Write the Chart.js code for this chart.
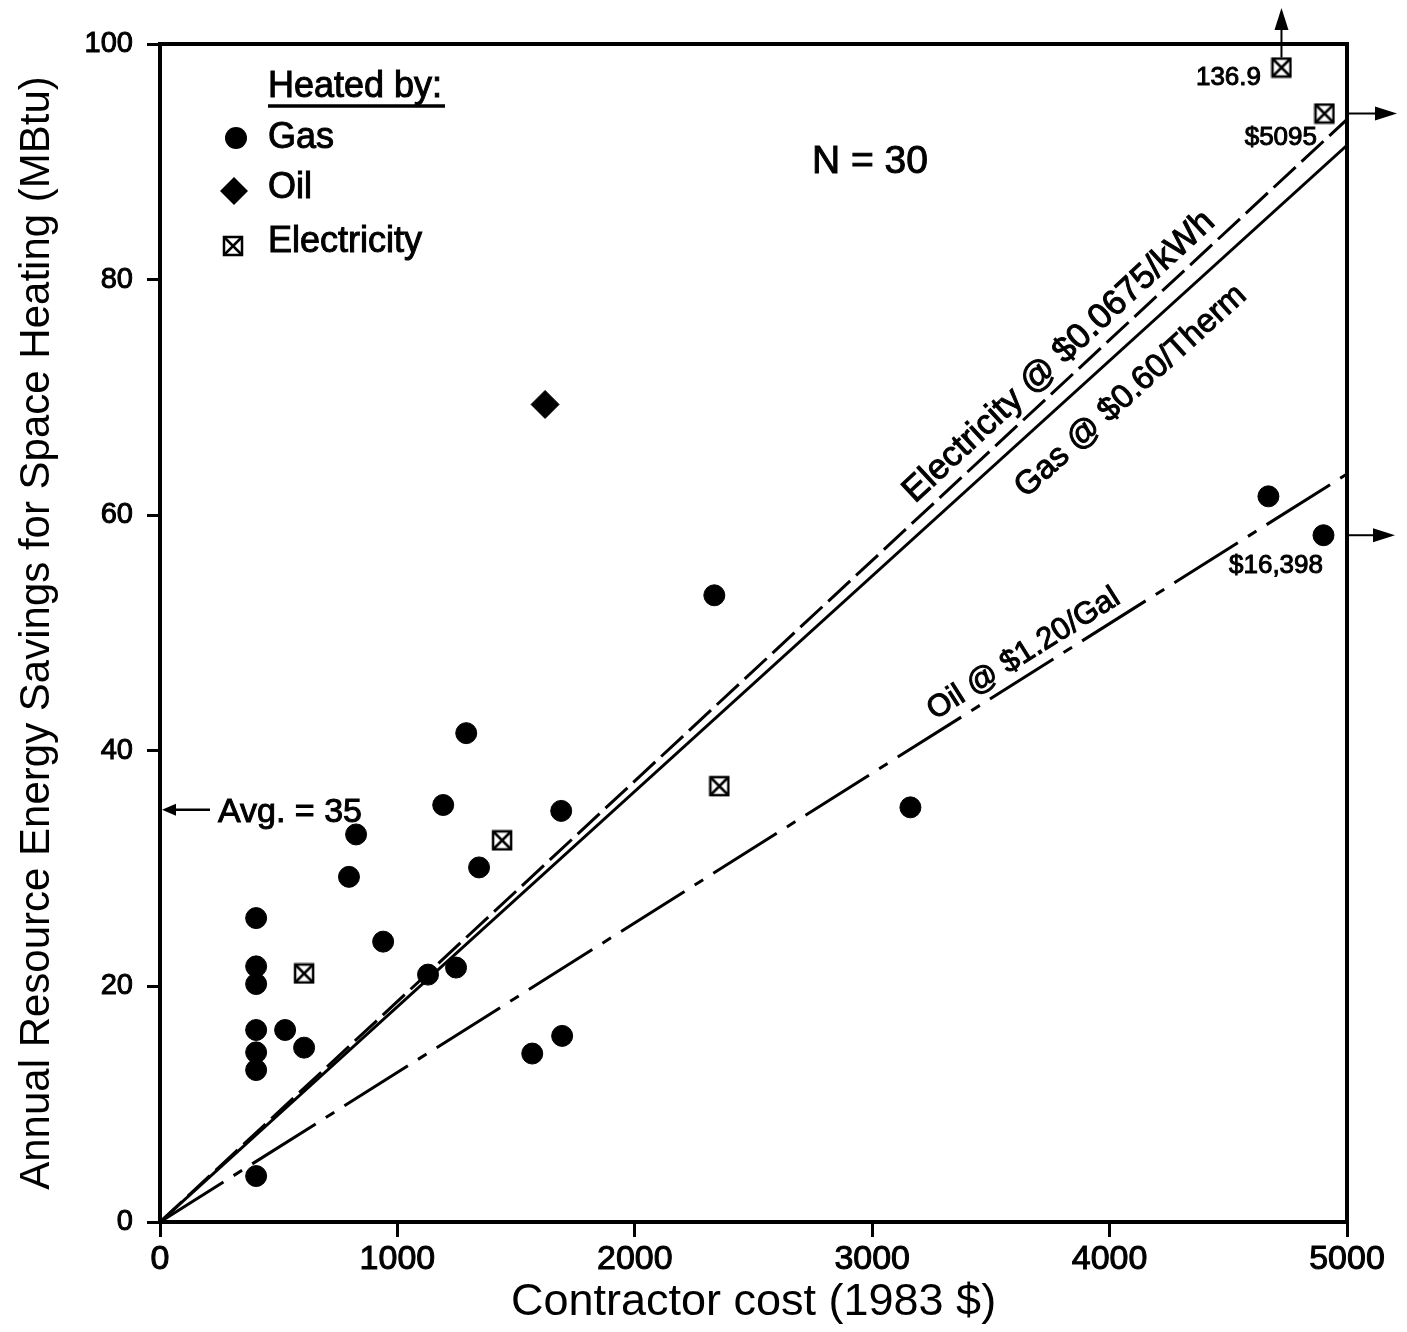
<!DOCTYPE html>
<html>
<head>
<meta charset="utf-8">
<script src="https://cdn.jsdelivr.net/npm/chart.js@4"></script>
<style>
  body { margin: 0; background: #fff; }
</style>
</head>
<body>
<canvas id="chart" width="1407" height="1332"></canvas>
<script>
// values
const gasCost = [405, 405, 405, 405, 405, 405, 405, 527, 607, 796, 826, 940, 1129, 1193, 1247, 1290, 1344, 1568, 1690, 1694, 2335, 3161, 4669, 4901];
const gasSave = [3.9, 12.9, 14.4, 16.3, 20.2, 21.7, 25.8, 16.3, 14.8, 29.3, 32.9, 23.8, 21.0, 35.4, 21.6, 41.5, 30.1, 14.3, 34.9, 15.8, 53.2, 35.2, 61.6, 58.3];
const oilCost = [1622];
const oilSave = [69.4];
const elecCost = [607, 1441, 2356, 4724, 4905];
const elecSave = [21.1, 32.4, 37.0, 98.0, 94.1];

// break-even lines
const lineCost = [0, 5000];
const gasLine = [0, 91.4];
const elecLine = [0, 93.6];
const oilLine = [0, 63.5];

const xTicks = [0, 1000, 2000, 3000, 4000, 5000];
const yTicks = [0, 20, 40, 60, 80, 100];

const FONT = "'Liberation Sans', Arial, Helvetica, sans-serif";

function toPoints(xs, ys) {
  return xs.map((x, i) => ({ x: x, y: ys[i] }));
}

// boxed X marker for electricity
function boxX(size) {
  const c = document.createElement("canvas");
  c.width = size + 4;
  c.height = size + 4;
  const g = c.getContext("2d");
  g.strokeStyle = "#000";
  g.lineWidth = 2.5;
  g.strokeRect(2, 2, size, size);
  g.beginPath();
  g.moveTo(2, 2); g.lineTo(size + 2, size + 2);
  g.moveTo(size + 2, 2); g.lineTo(2, size + 2);
  g.stroke();
  return c;
}
const elecMark = boxX(18);

function arrow(ctx, x1, y1, x2, y2, head, half) {
  const a = Math.atan2(y2 - y1, x2 - x1);
  ctx.beginPath();
  ctx.moveTo(x1, y1);
  ctx.lineTo(x2 - Math.cos(a) * head, y2 - Math.sin(a) * head);
  ctx.stroke();
  ctx.beginPath();
  ctx.moveTo(x2, y2);
  ctx.lineTo(x2 - Math.cos(a) * head - Math.sin(a) * half, y2 - Math.sin(a) * head + Math.cos(a) * half);
  ctx.lineTo(x2 - Math.cos(a) * head + Math.sin(a) * half, y2 - Math.sin(a) * head - Math.cos(a) * half);
  ctx.closePath();
  ctx.fill();
}

// filled + thin stroke so the text looks as heavy as the scan
function heavyText(ctx, s, x, y) {
  ctx.save();
  ctx.lineWidth = 1;
  ctx.fillText(s, x, y);
  ctx.strokeText(s, x, y);
  ctx.restore();
}

function lineLabel(chart, ys, atX, text, offset, size) {
  const ctx = chart.ctx;
  const sx = chart.scales.x, sy = chart.scales.y;
  const x0 = sx.getPixelForValue(lineCost[0]), y0 = sy.getPixelForValue(ys[0]);
  const x1 = sx.getPixelForValue(lineCost[1]), y1 = sy.getPixelForValue(ys[1]);
  const ang = Math.atan2(y1 - y0, x1 - x0);
  const yv = ys[0] + (ys[1] - ys[0]) * (atX - lineCost[0]) / (lineCost[1] - lineCost[0]);
  ctx.save();
  ctx.translate(sx.getPixelForValue(atX), sy.getPixelForValue(yv));
  ctx.rotate(ang);
  ctx.font = size + "px " + FONT;
  ctx.textAlign = "center";
  ctx.textBaseline = "middle";
  heavyText(ctx, text, 0, offset);
  ctx.restore();
}

const extras = {
  id: "extras",
  afterDraw(chart) {
    const ctx = chart.ctx;
    const a = chart.chartArea;
    const sx = chart.scales.x, sy = chart.scales.y;
    ctx.save();
    ctx.fillStyle = "#000";
    ctx.strokeStyle = "#000";

    // frame
    ctx.lineWidth = 4;
    ctx.strokeRect(a.left, a.top, a.right - a.left, a.bottom - a.top);

    // legend
    ctx.font = "36px " + FONT;
    ctx.textAlign = "left";
    ctx.textBaseline = "alphabetic";
    heavyText(ctx, "Heated by:", 268, 97);
    ctx.lineWidth = 3.5;
    ctx.beginPath();
    ctx.moveTo(268, 106);
    ctx.lineTo(445, 106);
    ctx.stroke();
    ctx.beginPath();
    ctx.arc(236, 138, 11, 0, Math.PI * 2);
    ctx.fill();
    ctx.beginPath();
    ctx.moveTo(234, 177); ctx.lineTo(248, 191); ctx.lineTo(234, 205); ctx.lineTo(220, 191);
    ctx.closePath();
    ctx.fill();
    ctx.drawImage(elecMark, 233 - elecMark.width / 2, 246 - elecMark.height / 2);
    heavyText(ctx, "Gas", 268, 148);
    heavyText(ctx, "Oil", 268, 198);
    heavyText(ctx, "Electricity", 268, 252);

    // sample size
    ctx.font = "39px " + FONT;
    heavyText(ctx, "N = 30", 812, 173);

    // average marker
    const yAvg = sy.getPixelForValue(35);
    ctx.lineWidth = 2.5;
    arrow(ctx, a.left + 50, yAvg, a.left + 2, yAvg, 14, 6);
    ctx.font = "34px " + FONT;
    heavyText(ctx, "Avg. = 35", 218, yAvg + 12);

    // break-even line labels
    lineLabel(chart, elecLine, 3850, "Electricity @ $0.0675/kWh", -22, 35);
    lineLabel(chart, gasLine, 3985, "Gas @ $0.60/Therm", 37, 33);
    lineLabel(chart, oilLine, 3683, "Oil @ $1.20/Gal", -20, 31);

    // off-scale values
    ctx.lineWidth = 2;
    const xUp = sx.getPixelForValue(elecCost[3]);
    arrow(ctx, xUp, sy.getPixelForValue(elecSave[3]) - 10, xUp, 8, 22, 7);
    const y5095 = sy.getPixelForValue(elecSave[4]);
    arrow(ctx, a.right, y5095, a.right + 50, y5095, 22, 7);
    const y16k = sy.getPixelForValue(gasSave[23]);
    arrow(ctx, a.right, y16k, a.right + 48, y16k, 22, 7);
    ctx.font = "26px " + FONT;
    ctx.textAlign = "right";
    heavyText(ctx, "136.9", 1261, 85);
    heavyText(ctx, "$5095", 1317, 145);
    heavyText(ctx, "$16,398", 1323, 573);
    ctx.restore();
  }
};

new Chart(document.getElementById("chart"), {
  type: "scatter",
  data: {
    datasets: [
      {
        label: "Gas @ $0.60/Therm",
        data: toPoints(lineCost, gasLine),
        showLine: true, pointRadius: 0,
        borderColor: "#000", borderWidth: 3
      },
      {
        label: "Electricity @ $0.0675/kWh",
        data: toPoints(lineCost, elecLine),
        showLine: true, pointRadius: 0,
        borderColor: "#000", borderWidth: 3, borderDash: [30, 8]
      },
      {
        label: "Oil @ $1.20/Gal",
        data: toPoints(lineCost, oilLine),
        showLine: true, pointRadius: 0,
        borderColor: "#000", borderWidth: 3, borderDash: [75, 12, 10, 12]
      },
      {
        label: "Gas",
        data: toPoints(gasCost, gasSave),
        pointStyle: "circle", pointRadius: 10.5,
        backgroundColor: "#000", borderColor: "#000"
      },
      {
        label: "Oil",
        data: toPoints(oilCost, oilSave),
        pointStyle: "rectRot", pointRadius: 14,
        backgroundColor: "#000", borderColor: "#000"
      },
      {
        label: "Electricity",
        data: toPoints(elecCost, elecSave),
        pointStyle: elecMark, pointRadius: 11
      }
    ]
  },
  options: {
    responsive: false,
    animation: false,
    devicePixelRatio: 1,
    layout: { padding: { top: 44, right: 60, left: 0, bottom: 0 } },
    plugins: { legend: { display: false }, tooltip: { enabled: false } },
    scales: {
      x: {
        type: "linear", min: 0, max: 5000,
        afterFit: s => { s.height = 110; },
        afterBuildTicks: s => { s.ticks = xTicks.map(v => ({ value: v })); },
        ticks: {
          color: "#000", font: { family: FONT, size: 34 }, padding: 2,
          textStrokeColor: "#000", textStrokeWidth: 1,
          callback: v => String(v)
        },
        grid: { drawOnChartArea: false, drawTicks: true, tickLength: 15, color: "#000", lineWidth: 3 },
        border: { display: false },
        title: {
          display: true, text: "Contractor cost (1983 $)", color: "#000",
          font: { family: FONT, size: 45 }, padding: { top: 0, bottom: 2 }
        }
      },
      y: {
        type: "linear", min: 0, max: 100,
        afterFit: s => { s.width = 160; },
        afterBuildTicks: s => { s.ticks = yTicks.map(v => ({ value: v })); },
        ticks: {
          color: "#000", font: { family: FONT, size: 29 }, padding: 14,
          textStrokeColor: "#000", textStrokeWidth: 1
        },
        grid: { drawOnChartArea: false, drawTicks: true, tickLength: 13, color: "#000", lineWidth: 3 },
        border: { display: false },
        title: {
          display: true, text: "Annual Resource Energy Savings for Space Heating (MBtu)", color: "#000",
          font: { family: FONT, size: 42 }, padding: { top: 12, bottom: 0 }
        }
      }
    }
  },
  plugins: [extras]
});
</script>
</body>
</html>
